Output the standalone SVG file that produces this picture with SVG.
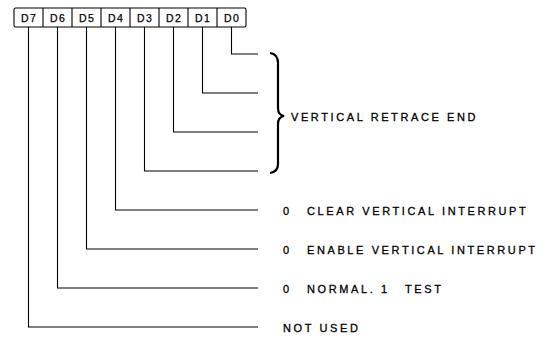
<svg xmlns="http://www.w3.org/2000/svg" width="550" height="338" viewBox="0 0 550 338">
<style>
.bx{fill:#fff;stroke:#000;stroke-width:1.1}
.bl{font-family:"Liberation Sans",Arial,sans-serif;font-size:10.5px;text-anchor:middle;fill:#000;letter-spacing:1.5px;stroke:#000;stroke-width:0.25}
.ln{fill:none;stroke:#000;stroke-width:1.1}
.tx{font-family:"Liberation Sans",Arial,sans-serif;font-size:11px;fill:#000;letter-spacing:2.6px;stroke:#000;stroke-width:0.3}
.br{fill:none;stroke:#000;stroke-width:2.2}
</style>
<rect width="550" height="338" fill="#fff"/>
<g id="register">
<rect class="bx" x="14" y="8" width="232" height="19" rx="1.5"/>
<path class="ln" d="M43,8V27M72,8V27M101,8V27M130,8V27M159,8V27M188,8V27M217,8V27"/>
<text class="bl" x="29.2" y="21.5">D7</text>
<text class="bl" x="58.2" y="21.5">D6</text>
<text class="bl" x="87.2" y="21.5">D5</text>
<text class="bl" x="116.2" y="21.5">D4</text>
<text class="bl" x="145.2" y="21.5">D3</text>
<text class="bl" x="174.2" y="21.5">D2</text>
<text class="bl" x="203.2" y="21.5">D1</text>
<text class="bl" x="232.2" y="21.5">D0</text>
</g>
<g id="connectors">
<path class="ln" d="M231.5,27V54H258"/>
<path class="ln" d="M202.5,27V93H258"/>
<path class="ln" d="M173.5,27V132H258"/>
<path class="ln" d="M144.5,27V171H258"/>
<path class="ln" d="M115.5,27V210H258"/>
<path class="ln" d="M86.5,27V249H258"/>
<path class="ln" d="M57.5,27V288H258"/>
<path class="ln" d="M28.5,27V327H258"/>
</g>
<g id="vre">
<path class="br" d="M270,53Q278,54 278,63V108Q278,115 284,116Q278,117 278,124V164Q278,172 270,173"/>
<text class="tx" x="291" y="120.5">VERTICAL RETRACE END</text>
</g>
<g id="d4">
<text class="tx" x="283" y="215">0</text>
<text class="tx" x="307" y="215">CLEAR VERTICAL INTERRUPT</text>
</g>
<g id="d5">
<text class="tx" x="283" y="254">0</text>
<text class="tx" x="307" y="254">ENABLE VERTICAL INTERRUPT</text>
</g>
<g id="d6">
<text class="tx" x="283" y="293">0</text>
<text class="tx" x="307" y="293">NORMAL.</text>
<text class="tx" x="381" y="293">1</text>
<text class="tx" x="405" y="293">TEST</text>
</g>
<g id="d7">
<text class="tx" x="283" y="332">NOT USED</text>
</g>
</svg>
